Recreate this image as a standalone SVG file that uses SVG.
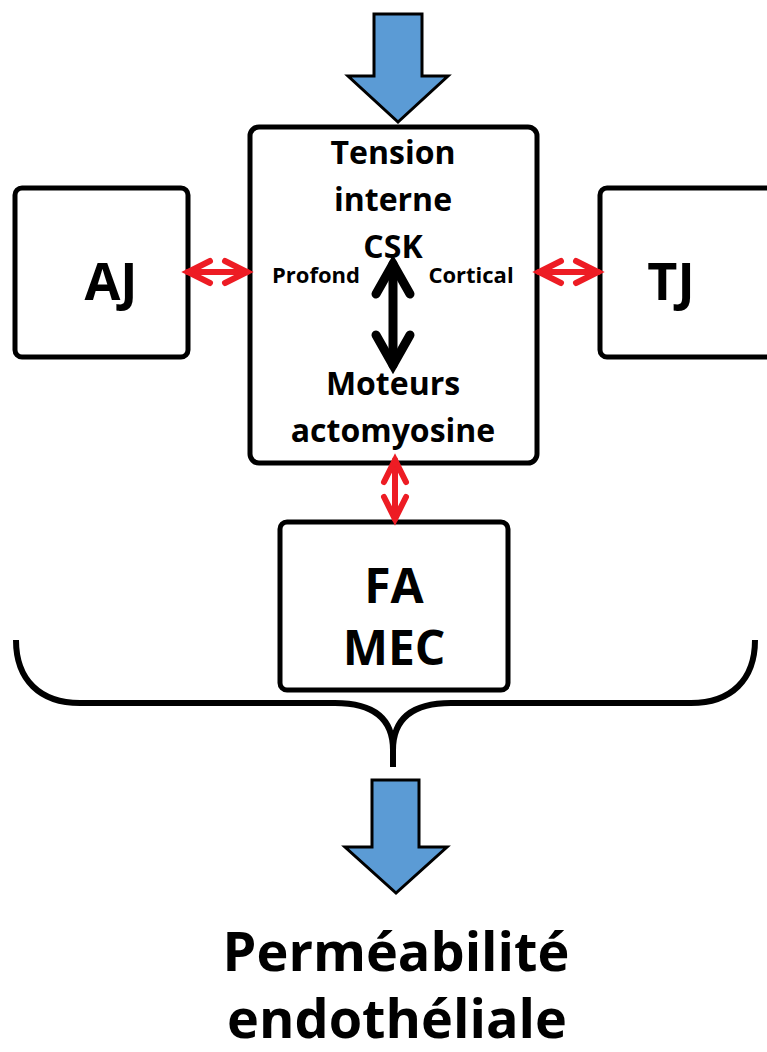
<svg xmlns="http://www.w3.org/2000/svg" width="767" height="1052" viewBox="0 0 767 1052">
<defs>
<style>
.box{fill:#fff;stroke:#000;stroke-width:5}
.t{font-family:"Open Sans","Liberation Sans",sans-serif;font-weight:bold;fill:#000;text-anchor:middle}
.blue{fill:#5b9bd5;stroke:#000;stroke-width:3;stroke-linejoin:miter}
.red{fill:none;stroke:#ed1c24;stroke-width:6;stroke-linecap:round}
.blk{fill:none;stroke:#000;stroke-width:9;stroke-linecap:round}
</style>
<marker id="rh" markerUnits="userSpaceOnUse" viewBox="-40 -40 80 80" markerWidth="80" markerHeight="80" refX="0" refY="0" orient="auto-start-reverse" overflow="visible">
<path d="M-22,-11 L0,0 L-22,11" fill="none" stroke="#ed1c24" stroke-width="6" stroke-linecap="round" stroke-linejoin="miter"/>
</marker>
<marker id="bh" markerUnits="userSpaceOnUse" viewBox="-60 -60 120 120" markerWidth="120" markerHeight="120" refX="0" refY="0" orient="auto-start-reverse" overflow="visible">
<path d="M-30,-17 L0,0 L-30,17" fill="none" stroke="#000" stroke-width="9" stroke-linecap="round" stroke-linejoin="miter"/>
</marker>
</defs>
<rect width="767" height="1052" fill="#fff"/>
<g id="input-arrow"><polygon class="blue" points="374,14 422,14 422,76 448,76 398,122 348,76 374,76"/></g>
<g id="node-csk">
<rect class="box" x="250" y="127" width="287" height="336" rx="9"/>
<text class="t" font-size="32" x="393" y="164">Tension</text>
<text class="t" font-size="32" x="393" y="211">interne</text>
<text class="t" font-size="32" x="393" y="258">CSK</text>
<text class="t" font-size="22" x="316" y="283">Profond</text>
<text class="t" font-size="22" x="471" y="283">Cortical</text>
<text class="t" font-size="32" x="393" y="395">Moteurs</text>
<text class="t" font-size="32" x="393" y="442">actomyosine</text>
</g>
<g id="node-aj">
<rect class="box" x="15" y="188" width="173" height="169" rx="7"/>
<text class="t" font-size="52" x="111" y="300">AJ</text>
</g>
<g id="node-tj">
<rect class="box" x="600" y="188" width="180" height="169" rx="7"/>
<text class="t" font-size="52" x="671" y="300">TJ</text>
</g>
<g id="node-fa">
<rect class="box" x="280" y="522" width="228" height="168" rx="7"/>
<text class="t" font-size="48" x="394" y="603">FA</text>
<text class="t" font-size="48" x="394" y="665">MEC</text>
</g>
<g id="brace"><path d="M16,640 C16,680 40,703 80,703 H335 C375,703 393,720 393,750 V767 M755,640 C755,680 731,703 691,703 H451 C411,703 393,720 393,750" fill="none" stroke="#000" stroke-width="6"/></g>
<g id="output-arrow"><polygon class="blue" points="372,780 419,780 419,847 447,847 396,893 345,847 372,847"/></g>
<g id="result"><text class="t" font-size="54" x="396" y="971">Perméabilité</text>
<text class="t" font-size="54" x="397" y="1038">endothéliale</text></g>
<g id="connectors">
<line class="red" x1="188" y1="272" x2="247" y2="272" marker-start="url(#rh)" marker-end="url(#rh)"/>
<line class="red" x1="539" y1="272" x2="598" y2="272" marker-start="url(#rh)" marker-end="url(#rh)"/>
<line class="red" x1="395" y1="460" x2="395" y2="519" marker-start="url(#rh)" marker-end="url(#rh)"/>
<line class="blk" x1="393" y1="264" x2="393" y2="365" marker-start="url(#bh)" marker-end="url(#bh)"/>
</g>
</svg>
